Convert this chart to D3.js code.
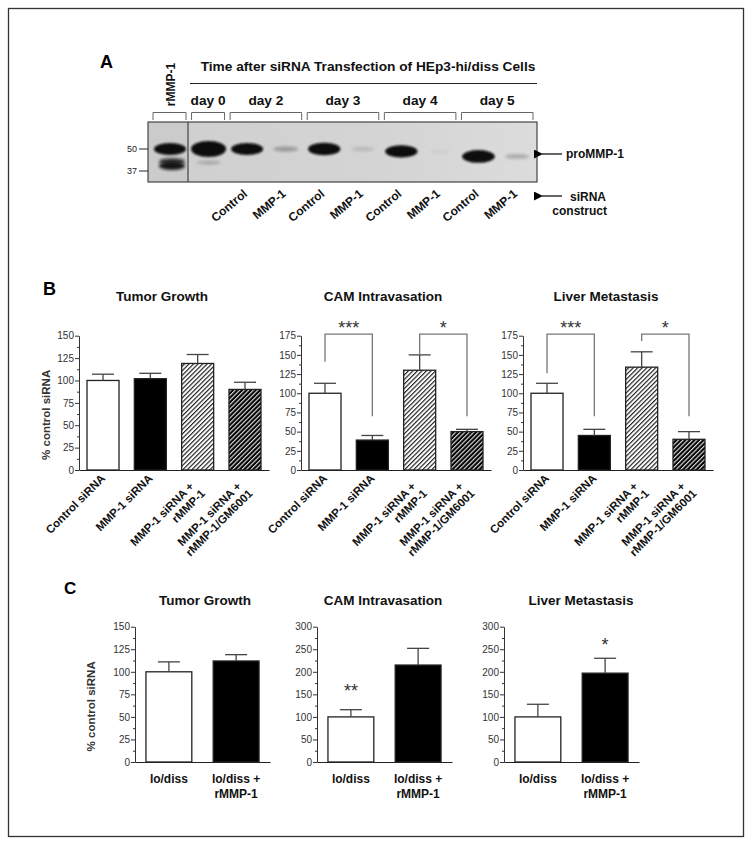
<!DOCTYPE html>
<html><head><meta charset="utf-8">
<script src="https://cdn.jsdelivr.net/npm/d3@7"></script>
<style>
body{margin:0;background:#fff}
svg{display:block}
text{font-family:'Liberation Sans',Arial,Helvetica,sans-serif}
</style>
</head><body>
<svg id="fig" width="751" height="843"></svg>
<script>
// ================= DATA =================
// Panel A: western blot
const blotLanes = ["rMMP-1","day 0","Control","MMP-1","Control","MMP-1","Control","MMP-1","Control","MMP-1"];
const blotGroups = ["rMMP-1","day 0","day 2","day 3","day 4","day 5"];
const blotGroupOfLane = [0,1,2,2,3,3,4,4,5,5];
const blotBandAmount = [1.0,1.5,1.0,0.25,1.05,0.12,1.05,0.04,1.1,0.2];
const blotBandKDa = [50,50,50,50,50,50,48.6,48.6,45.6,45.6];
const blotMinorLane = [0,0,1];
const blotMinorKDa = [42.6,40.0,42.0];
const blotMinorAmount = [0.75,0.95,0.22];
const blotMarkers = [50,37];
const blotTitle = "Time after siRNA Transfection of HEp3-hi/diss Cells";

// Panel B
const bTitles = ["Tumor Growth","CAM Intravasation","Liver Metastasis"];
const bCategories = [["Control siRNA"],["MMP-1 siRNA"],["MMP-1 siRNA +","rMMP-1"],["MMP-1 siRNA +","rMMP-1/GM6001"]];
const bTumorMean = [100,102,119,90];
const bTumorSEM  = [7,6,10,8];
const bCAMMean   = [100,39,130,50];
const bCAMSEM    = [13,6,20,3];
const bLiverMean = [100,45,134,40];
const bLiverSEM  = [13,8,20,10];
const bTicks150 = [0,25,50,75,100,125,150];
const bTicks175 = [0,25,50,75,100,125,150,175];
// [label, fromBar, toBar, leftLegEnd, rightLegEnd]
const bCAMSig   = [["***",0,1,141,70],["*",2,3,150,70]];
const bLiverSig = [["***",0,1,126,70],["*",2,3,168,70]];
const bSigTop = 177;

// Panel C
const cTitles = ["Tumor Growth","CAM Intravasation","Liver Metastasis"];
const cCategories = [["lo/diss"],["lo/diss +","rMMP-1"]];
const cTumorMean = [100,112];
const cTumorSEM  = [11,7];
const cCAMMean   = [100,215];
const cCAMSEM    = [16,37];
const cLiverMean = [100,197];
const cLiverSEM  = [28,33];
const cTicks150 = [0,25,50,75,100,125,150];
const cTicks300 = [0,50,100,150,200,250,300];
// [label, bar, value at star centre]
const cCAMStars   = [["**",0,167]];
const cLiverStars = [["*",1,269]];

const yLabel = "% control siRNA";

// ================= DRAWING =================
const svg = d3.select("#fig");
const defs = svg.append("defs");

// hatch patterns
const pl = defs.append("pattern").attr("id","hatchLight").attr("patternUnits","userSpaceOnUse")
  .attr("width",3.2).attr("height",3.2).attr("patternTransform","rotate(45)");
pl.append("rect").attr("width",3.2).attr("height",3.2).attr("fill","#fff");
pl.append("line").attr("x1",0.6).attr("y1",0).attr("x2",0.6).attr("y2",3.2).attr("stroke","#111").attr("stroke-width",1.1);
const pd = defs.append("pattern").attr("id","hatchDark").attr("patternUnits","userSpaceOnUse")
  .attr("width",3.2).attr("height",3.2).attr("patternTransform","rotate(45)");
pd.append("rect").attr("width",3.2).attr("height",3.2).attr("fill","#000");
pd.append("line").attr("x1",0.6).attr("y1",0).attr("x2",0.6).attr("y2",3.2).attr("stroke","#fff").attr("stroke-width",1.0);

defs.append("filter").attr("id","blurS").attr("x","-50%").attr("y","-100%").attr("width","200%").attr("height","300%")
  .append("feGaussianBlur").attr("stdDeviation",1.3);
defs.append("filter").attr("id","blurF").attr("x","-50%").attr("y","-100%").attr("width","200%").attr("height","300%")
  .append("feGaussianBlur").attr("stdDeviation",1.6);
const grad = defs.append("linearGradient").attr("id","blotBg").attr("x1","0").attr("x2","1");
grad.append("stop").attr("offset","0").attr("stop-color","#cfcfcf");
grad.append("stop").attr("offset","0.6").attr("stop-color","#d4d4d4");
grad.append("stop").attr("offset","1").attr("stop-color","#dcdcdc");
const mk = defs.append("marker").attr("id","arrow").attr("viewBox","0 0 10 10").attr("refX",1).attr("refY",5)
  .attr("markerWidth",9).attr("markerHeight",9).attr("markerUnits","userSpaceOnUse").attr("orient","auto-start-reverse");
mk.append("path").attr("d","M0,5 L10,0 L10,10 Z").attr("fill","#000");

// outer frame
svg.append("rect").attr("x",8.5).attr("y",8.5).attr("width",735).attr("height",828)
  .attr("fill","none").attr("stroke","#333").attr("stroke-width",1.3);

// ---------- Panel A ----------
const A = svg.append("g");
A.append("text").attr("x",100).attr("y",68).attr("font-size",18).attr("font-weight","bold").text("A");
A.append("text").attr("x",368).attr("y",71).attr("text-anchor","middle").attr("font-size",13.7)
  .attr("font-weight","bold").attr("fill","#111").text(blotTitle);
A.append("line").attr("x1",190).attr("x2",537).attr("y1",83.5).attr("y2",83.5).attr("stroke","#222").attr("stroke-width",1);

const laneX = d3.scalePoint().domain(d3.range(blotLanes.length)).range([170,517]);
const kdaY = d3.scaleLinear().domain([50,37]).range([149,171]);

// group brackets + labels
blotGroups.forEach((name,gi)=>{
  const lanes = d3.range(blotLanes.length).filter(i=>blotGroupOfLane[i]===gi);
  const x1 = laneX(lanes[0])-17, x2 = laneX(lanes[lanes.length-1])+16;
  A.append("path").attr("d",`M${x1},120 V112.5 H${x2} V120`).attr("fill","none").attr("stroke","#666").attr("stroke-width",1);
  if (gi===0) {
    A.append("text").attr("transform",`translate(${(x1+x2)/2+5},84.5) rotate(-90)`).attr("text-anchor","middle")
      .attr("font-size",12).attr("font-weight","bold").attr("fill","#111").text(name);
  } else {
    A.append("text").attr("x",(x1+x2)/2).attr("y",105).attr("text-anchor","middle")
      .attr("font-size",13.7).attr("font-weight","bold").attr("fill","#111").text(name);
  }
});

// blot membrane
A.append("rect").attr("x",148).attr("y",122).attr("width",389).attr("height",60).attr("fill","url(#blotBg)");
A.append("rect").attr("x",148).attr("y",122).attr("width",40).attr("height",60).attr("fill","#cbcbcb");
const bandsG = A.append("g");
blotLanes.forEach((l,i)=>{
  const a = blotBandAmount[i];
  const rx = 9 + 7*Math.sqrt(Math.min(a,1)) + (a>1 ? 3*(a-1) : 0);
  const ry = 1.5 + 4.5*Math.min(a,1) + (a>1 ? 4*(a-1) : 0);
  bandsG.append("ellipse").attr("cx",laneX(i)).attr("cy",kdaY(blotBandKDa[i])).attr("rx",rx).attr("ry",ry)
    .attr("fill","#0a0a0a").attr("opacity",Math.min(1,a*1.15)).attr("filter", a>=0.5 ? "url(#blurS)" : "url(#blurF)");
});
blotMinorLane.forEach((li,k)=>{
  const a = blotMinorAmount[k];
  bandsG.append("ellipse").attr("cx",laneX(li)+(li===0?2:0)).attr("cy",kdaY(blotMinorKDa[k]))
    .attr("rx", li===0 ? 13 : 12).attr("ry", 1.2+3*a)
    .attr("fill","#111").attr("opacity",a).attr("filter","url(#blurF)");
});
A.append("rect").attr("x",148).attr("y",122).attr("width",389).attr("height",60).attr("fill","none")
  .attr("stroke","#444").attr("stroke-width",1.2);
A.append("line").attr("x1",188).attr("x2",188).attr("y1",122).attr("y2",182).attr("stroke","#444").attr("stroke-width",1.2);
// markers
blotMarkers.forEach(m=>{
  A.append("line").attr("x1",139).attr("x2",148).attr("y1",kdaY(m)).attr("y2",kdaY(m)).attr("stroke","#222");
  A.append("text").attr("x",137).attr("y",kdaY(m)+3).attr("text-anchor","end").attr("font-size",9).attr("fill","#222").text(m);
});
// lane labels
blotLanes.forEach((l,i)=>{
  if (blotGroupOfLane[i] < 2) return;
  A.append("text").attr("transform",`translate(${laneX(i)+1},195) rotate(-40)`).attr("text-anchor","end")
    .attr("font-size",12).attr("font-weight","bold").attr("fill","#111").text(l);
});
// arrows
A.append("line").attr("x1",562).attr("x2",542).attr("y1",154).attr("y2",154).attr("stroke","#000").attr("stroke-width",1.2).attr("marker-end","url(#arrow)");
A.append("text").attr("x",566).attr("y",158).attr("font-size",12).attr("font-weight","bold").attr("fill","#111").text("proMMP-1");
A.append("line").attr("x1",562).attr("x2",542).attr("y1",196).attr("y2",196).attr("stroke","#000").attr("stroke-width",1.2).attr("marker-end","url(#arrow)");
A.append("text").attr("x",606).attr("y",201).attr("text-anchor","end").attr("font-size",12).attr("font-weight","bold").attr("fill","#111").text("siRNA");
A.append("text").attr("x",607).attr("y",215).attr("text-anchor","end").attr("font-size",12).attr("font-weight","bold").attr("fill","#111").text("construct");

// ---------- generic bar chart ----------
function barChart(o){
  const g = svg.append("g");
  const n = o.mean.length;
  const x = d3.scaleBand().domain(d3.range(n)).range([o.x0, o.x0+o.width]).paddingInner(o.pi).paddingOuter(o.po);
  const y = d3.scaleLinear().domain([0, d3.max(o.ticks)]).range([o.yBottom, o.yTop]);
  // title
  g.append("text").attr("x",o.x0+o.titleDx).attr("y",o.titleY).attr("text-anchor","middle")
    .attr("font-size",13.5).attr("font-weight","bold").attr("fill","#111").text(o.title);
  // y axis
  const ax = g.append("g").attr("transform",`translate(${o.x0},0)`)
    .call(d3.axisLeft(y).tickValues(o.ticks).tickSize(4).tickSizeOuter(0).tickPadding(1));
  ax.select(".domain").attr("stroke","#333");
  ax.selectAll(".tick line").attr("stroke","#333");
  ax.selectAll(".tick text").attr("font-size",10).attr("fill","#333").attr("font-family","'Liberation Sans',Arial,sans-serif");
  const minor = d3.pairs(o.ticks).map(([a,b])=>(a+b)/2);
  const axm = g.append("g").attr("transform",`translate(${o.x0},0)`)
    .call(d3.axisLeft(y).tickValues(minor).tickSize(2).tickSizeOuter(0).tickFormat(""));
  axm.select(".domain").remove();
  axm.selectAll(".tick line").attr("stroke","#333");
  // x axis
  const bx = g.append("g").attr("transform",`translate(0,${o.yBottom})`)
    .call(d3.axisBottom(x).tickValues([]).tickSizeOuter(0));
  bx.select(".domain").attr("stroke","#222").attr("stroke-width",1.1);
  // bars
  g.selectAll("rect.bar").data(o.mean).enter().append("rect").attr("class","bar")
    .attr("x",(d,i)=>x(i)).attr("width",x.bandwidth())
    .attr("y",d=>y(d)).attr("height",d=>y(0)-y(d))
    .attr("fill",(d,i)=>o.fills[i]).attr("stroke","#222").attr("stroke-width",1.3);
  // error bars
  o.mean.forEach((m,i)=>{
    const cx = x(i)+x.bandwidth()/2, top = y(m+o.sem[i]);
    g.append("line").attr("x1",cx).attr("x2",cx).attr("y1",y(m)).attr("y2",top).attr("stroke","#444").attr("stroke-width",1.3);
    g.append("line").attr("x1",cx-o.cap).attr("x2",cx+o.cap).attr("y1",top).attr("y2",top).attr("stroke","#444").attr("stroke-width",1.3);
  });
  // significance brackets
  (o.sig||[]).forEach(([lab,a,b,le,re])=>{
    const xa = x(a)+x.bandwidth()/2, xb = x(b)+x.bandwidth()/2, yt = y(o.sigTop);
    g.append("path").attr("d",`M${xa},${y(le)} V${yt} H${xb} V${y(re)}`).attr("fill","none")
      .attr("stroke","#777").attr("stroke-width",1.3);
    g.append("text").attr("x",(xa+xb)/2).attr("y",yt-0.5).attr("text-anchor","middle")
      .attr("font-size",18).attr("fill","#333").text(lab);
  });
  (o.stars||[]).forEach(([lab,bi,v])=>{
    g.append("text").attr("x",x(bi)+x.bandwidth()/2).attr("y",y(v)+10).attr("text-anchor","middle")
      .attr("font-size",18).attr("fill","#333").text(lab);
  });
  // x labels
  o.categories.forEach((lines,i)=>{
    const cx = x(i)+x.bandwidth()/2;
    if (o.rotated){
      const gl = g.append("g").attr("transform",`translate(${cx+3},${o.yBottom+9}) rotate(-45)`);
      lines.forEach((t,j)=>{
        const along = lines.length===1 ? 0 : (j===0 ? -10 : -7);
        const perp  = lines.length===1 ? 0 : (j===0 ? 1.4 : 14.4);
        gl.append("text").attr("x",along).attr("y",perp).attr("text-anchor","end")
          .attr("font-size",11.5).attr("font-weight","bold").attr("fill","#111").text(t);
      });
    } else {
      lines.forEach((t,j)=>{
        g.append("text").attr("x",cx).attr("y",o.yBottom+21+j*14.5).attr("text-anchor","middle")
          .attr("font-size",12).attr("font-weight","bold").attr("fill","#111").text(t);
      });
    }
  });
  if (o.ylabelX){
    g.append("text").attr("transform",`translate(${o.ylabelX},${(o.yBottom+o.yTop)/2+12}) rotate(-90)`)
      .attr("text-anchor","middle").attr("font-size",11.5).attr("font-weight","bold").attr("fill","#333").text(yLabel);
  }
  return g;
}

// ---------- Panel B ----------
svg.append("text").attr("x",43).attr("y",295).attr("font-size",18).attr("font-weight","bold").text("B");
const bFills = ["#fff","#000","url(#hatchLight)","url(#hatchDark)"];
const bCommon = {width:190, pi:0.3235, po:0.169, yBottom:470, yTop:335.7, titleY:301, cap:11,
                 categories:bCategories, fills:bFills, rotated:true, sigTop:bSigTop};
barChart(Object.assign({}, bCommon, {x0:79, title:bTitles[0], titleDx:83, mean:bTumorMean, sem:bTumorSEM, ticks:bTicks150, ylabelX:50}));
barChart(Object.assign({}, bCommon, {x0:301, title:bTitles[1], titleDx:82, mean:bCAMMean, sem:bCAMSEM, ticks:bTicks175, sig:bCAMSig}));
barChart(Object.assign({}, bCommon, {x0:523, title:bTitles[2], titleDx:83, mean:bLiverMean, sem:bLiverSEM, ticks:bTicks175, sig:bLiverSig}));

// ---------- Panel C ----------
svg.append("text").attr("x",64).attr("y",594).attr("font-size",17).attr("font-weight","bold").text("C");
const cFills = ["#fff","#000"];
const cCommon = {width:135, pi:0.318, po:0.163, yBottom:762, yTop:626.7, titleY:605, cap:11,
                 categories:cCategories, fills:cFills, rotated:false};
barChart(Object.assign({}, cCommon, {x0:135, title:cTitles[0], titleDx:70, mean:cTumorMean, sem:cTumorSEM, ticks:cTicks150, ylabelX:95}));
barChart(Object.assign({}, cCommon, {x0:317, title:cTitles[1], titleDx:66, mean:cCAMMean, sem:cCAMSEM, ticks:cTicks300, stars:cCAMStars}));
barChart(Object.assign({}, cCommon, {x0:504, title:cTitles[2], titleDx:77, mean:cLiverMean, sem:cLiverSEM, ticks:cTicks300, stars:cLiverStars}));
</script>
</body></html>
